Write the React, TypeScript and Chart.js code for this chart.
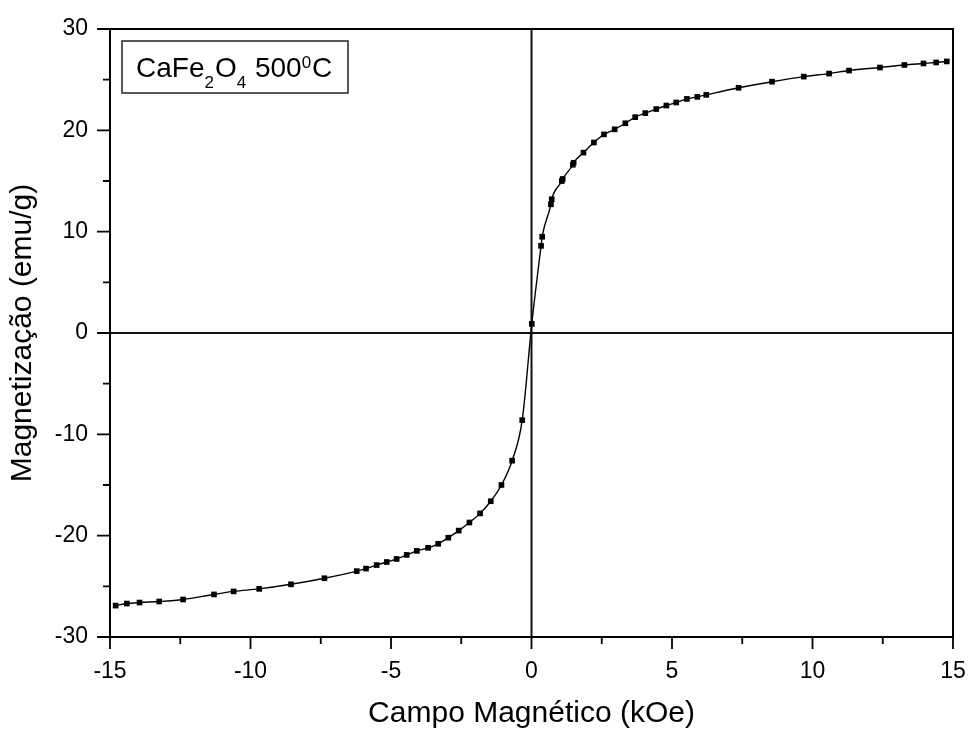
import { useEffect, useRef } from "react";
import { Chart, registerables } from "chart.js";

Chart.register(...registerables);

const fieldKOe = [
  -14.8, -14.4, -13.95, -13.25, -12.4, -11.3, -10.6, -9.69, -8.56, -7.37,
  -6.22, -5.89, -5.51, -5.15, -4.8, -4.44, -4.08, -3.68, -3.32, -2.96,
  -2.59, -2.21, -1.83, -1.45, -1.07, -0.69, -0.33,
  0.01, 0.34, 0.38, 0.69, 0.72, 1.08, 1.11, 1.47, 1.5, 1.85, 2.22, 2.58,
  2.96, 3.34, 3.69, 4.05, 4.44, 4.8, 5.15, 5.53, 5.9, 6.22, 7.37, 8.56,
  9.69, 10.59, 11.3, 12.4, 13.27, 13.95, 14.4, 14.78,
];
const magnetization = [
  -26.9, -26.7, -26.6, -26.5, -26.3, -25.8, -25.5, -25.25, -24.8, -24.2,
  -23.5, -23.25, -22.9, -22.6, -22.3, -21.9, -21.5, -21.2, -20.8, -20.2,
  -19.5, -18.7, -17.8, -16.6, -15.0, -12.6, -8.6,
  0.9, 8.6, 9.5, 12.7, 13.2, 15.0, 15.2, 16.6, 16.8, 17.8, 18.8, 19.6,
  20.1, 20.7, 21.3, 21.7, 22.1, 22.45, 22.75, 23.1, 23.3, 23.5, 24.2, 24.8,
  25.3, 25.6, 25.9, 26.2, 26.45, 26.6, 26.7, 26.8,
];

const xMajorStep = 5;
const yMajorStep = 10;
const xAxisTitle = "Campo Magnético (kOe)";
const yAxisTitle = "Magnetização (emu/g)";
// sample label pieces: [text, kind]  kind: n = normal, sub = subscript, sup = superscript
const sampleLabel: [string, string][] = [
  ["CaFe", "n"],
  ["2", "sub"],
  ["O", "n"],
  ["4", "sub"],
  [" 500", "n"],
  ["0", "sup"],
  ["C", "n"],
];

const FONT = "'Liberation Sans', Arial, Helvetica, sans-serif";

export default function App() {
  const ref = useRef<HTMLCanvasElement>(null);

  useEffect(() => {
    document.body.style.margin = "0";
    const canvas = ref.current!;

    const framePlugin = {
      id: "originFrame",
      beforeDatasetsDraw(chart: any) {
        const { ctx, chartArea, scales } = chart;
        const { left, right, top, bottom } = chartArea;
        const x0 = scales.x.getPixelForValue(0);
        const y0 = scales.y.getPixelForValue(0);
        ctx.save();
        ctx.strokeStyle = "#111";
        ctx.lineWidth = 2;
        ctx.beginPath();
        ctx.moveTo(x0, top);
        ctx.lineTo(x0, bottom);
        ctx.moveTo(left, y0);
        ctx.lineTo(right, y0);
        ctx.stroke();
        ctx.restore();
      },
      afterDraw(chart: any) {
        const { ctx, chartArea, scales } = chart;
        const { left, right, top, bottom } = chartArea;
        ctx.save();
        ctx.strokeStyle = "#000";
        ctx.lineWidth = 2;
        ctx.strokeRect(left, top, right - left, bottom - top);
        ctx.lineWidth = 1.8;
        ctx.beginPath();
        for (const t of scales.x.ticks) {
          const px = scales.x.getPixelForValue(t.value);
          const major = Math.abs(t.value % xMajorStep) < 1e-9;
          ctx.moveTo(px, bottom);
          ctx.lineTo(px, bottom + (major ? 12 : 7));
        }
        for (const t of scales.y.ticks) {
          const py = scales.y.getPixelForValue(t.value);
          const major = Math.abs(t.value % yMajorStep) < 1e-9;
          ctx.moveTo(left, py);
          ctx.lineTo(left - (major ? 13 : 7), py);
        }
        ctx.stroke();

        // sample label box
        const bx = left + 12;
        const by = top + 12;
        const bw = 226;
        const bh = 52;
        ctx.lineWidth = 1.5;
        ctx.strokeStyle = "#222";
        ctx.strokeRect(bx, by, bw, bh);
        let cx = bx + 14;
        const base = by + 36;
        ctx.fillStyle = "#000";
        ctx.textBaseline = "alphabetic";
        ctx.textAlign = "left";
        for (const [txt, kind] of sampleLabel) {
          const size = kind === "n" ? 28 : 17;
          const dy = kind === "sub" ? 11 : kind === "sup" ? -9 : 0;
          ctx.font = `${size}px ${FONT}`;
          ctx.fillText(txt, cx, base + dy);
          cx += ctx.measureText(txt).width + (kind === "n" ? 0 : 1);
        }
        ctx.restore();
      },
    };

    const chart = new Chart(canvas, {
      type: "scatter",
      data: {
        datasets: [
          {
            data: fieldKOe.map((x, i) => ({ x, y: magnetization[i] })),
            showLine: true,
            borderColor: "#000",
            borderWidth: 1.4,
            backgroundColor: "#000",
            pointStyle: "rect",
            pointRadius: 4,
            pointBorderWidth: 0,
            cubicInterpolationMode: "monotone",
          },
        ],
      },
      options: {
        animation: false,
        responsive: false,
        maintainAspectRatio: false,
        layout: { padding: { top: 29, right: 17, left: 0, bottom: 0 } },
        plugins: { legend: { display: false }, tooltip: { enabled: false } },
        scales: {
          x: {
            type: "linear",
            min: -15,
            max: 15,
            grid: { display: false },
            border: { display: false },
            ticks: {
              stepSize: 2.5,
              autoSkip: false,
              maxRotation: 0,
              padding: 13,
              color: "#000",
              font: { family: FONT, size: 23 },
              callback: (v: any) => (Math.abs(v % xMajorStep) < 1e-9 ? String(v) : ""),
            },
            title: {
              display: true,
              text: xAxisTitle,
              color: "#000",
              font: { family: FONT, size: 30 },
              padding: { top: 0, bottom: -3 },
            },
            afterFit: (s: any) => {
              s.height = 92;
              s.paddingLeft = 0;
              s.paddingRight = 0;
              s.paddingTop = 0;
              s.paddingBottom = 0;
            },
          },
          y: {
            type: "linear",
            min: -30,
            max: 30,
            grid: { display: false },
            border: { display: false },
            ticks: {
              stepSize: 5,
              autoSkip: false,
              padding: 14,
              color: "#000",
              font: { family: FONT, size: 23 },
              callback: (v: any) => (Math.abs(v % yMajorStep) < 1e-9 ? String(v) : ""),
            },
            title: {
              display: true,
              text: yAxisTitle,
              color: "#000",
              font: { family: FONT, size: 30 },
              padding: { top: 5, bottom: 0 },
            },
            afterFit: (s: any) => {
              s.width = 110;
              s.paddingLeft = 0;
              s.paddingRight = 0;
              s.paddingTop = 0;
              s.paddingBottom = 0;
            },
          },
        },
      } as any,
      plugins: [framePlugin],
    });

    return () => chart.destroy();
  }, []);

  return <canvas ref={ref} width={970} height={729} style={{ display: "block" }} />;
}
